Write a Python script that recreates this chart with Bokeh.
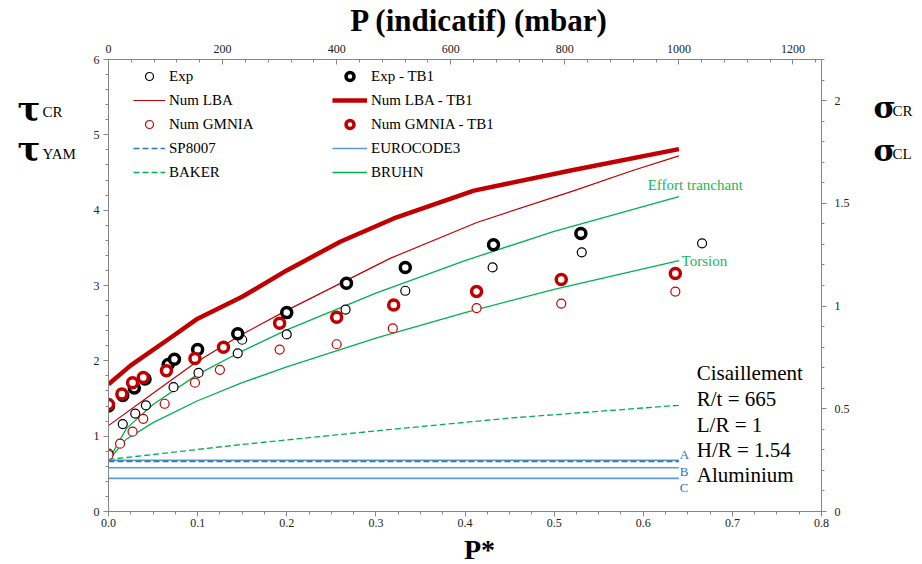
import numpy as np
from bokeh.plotting import figure
from bokeh.layouts import row, column
from bokeh.models import (Range1d, LinearAxis, Legend, LegendItem, Label,
                          FixedTicker, NumeralTickFormatter)
from bokeh.embed import file_html
from bokeh.resources import INLINE

# ---------------- data ----------------
exp_x = [0.0, 0.016, 0.030, 0.042, 0.073, 0.101, 0.145, 0.150, 0.200, 0.266, 0.333, 0.431, 0.531, 0.666]
exp_y = [0.77, 1.16, 1.30, 1.41, 1.65, 1.84, 2.10, 2.28, 2.35, 2.68, 2.93, 3.24, 3.44, 3.56]

exp_tb1_x = [0.0, 0.016, 0.029, 0.041, 0.067, 0.074, 0.100, 0.145, 0.200, 0.267, 0.333, 0.432, 0.530]
exp_tb1_y = [1.40, 1.54, 1.64, 1.76, 1.95, 2.02, 2.15, 2.36, 2.64, 3.03, 3.24, 3.54, 3.69]

gmnia_x = [0.0, 0.013, 0.027, 0.039, 0.063, 0.097, 0.125, 0.192, 0.256, 0.319, 0.413, 0.508, 0.636]
gmnia_y = [0.75, 0.90, 1.06, 1.23, 1.43, 1.71, 1.88, 2.15, 2.22, 2.43, 2.70, 2.76, 2.92]

gmnia_tb1_x = [0.0, 0.015, 0.027, 0.039, 0.065, 0.097, 0.129, 0.192, 0.256, 0.320, 0.413, 0.508, 0.636]
gmnia_tb1_y = [1.42, 1.56, 1.71, 1.78, 1.87, 2.03, 2.18, 2.50, 2.58, 2.74, 2.92, 3.08, 3.16]

lba_x = [0.0, 0.05, 0.097, 0.148, 0.2, 0.316, 0.414, 0.52, 0.589, 0.64]
lba_y = [1.14, 1.57, 1.97, 2.34, 2.67, 3.36, 3.84, 4.25, 4.53, 4.72]

lba_tb1_x = [0.0, 0.025, 0.07, 0.1, 0.15, 0.2, 0.26, 0.32, 0.41, 0.52, 0.64]
lba_tb1_y = [1.69, 1.94, 2.31, 2.56, 2.85, 3.20, 3.58, 3.89, 4.26, 4.53, 4.81]

bruhn_x = [0.0, 0.02, 0.05, 0.1, 0.15, 0.2, 0.3, 0.4, 0.5, 0.64]
bruhn_shear_y = [0.68, 1.10, 1.42, 1.82, 2.13, 2.41, 2.90, 3.33, 3.72, 4.18]
bruhn_torsion_y = [0.68, 0.96, 1.18, 1.47, 1.71, 1.92, 2.30, 2.64, 2.95, 3.33]

baker_x = [0.0, 0.15, 0.3, 0.45, 0.64]
baker_y = [0.69, 0.89, 1.07, 1.24, 1.41]

ec3_x = [0.0, 0.64]
ec3_levels = [0.68, 0.58, 0.44]
ec3_names = ["A", "B", "C"]
sp8007_level = 0.665

left_ticks = [0, 1, 2, 3, 4, 5, 6]
right_ticks = [0, 0.5, 1, 1.5, 2]
bottom_ticks = [0.0, 0.1, 0.2, 0.3, 0.4, 0.5, 0.6, 0.7, 0.8]
top_ticks = [0, 200, 400, 600, 800, 1000, 1200]

# ---------------- styling ----------------
RED = "#c00000"
GREEN = "#00b050"
BLUE = "#5b9bd5"
DBLUE = "#2e75b6"
SERIF = "Liberation Serif"
GREEK = "DejaVu Serif"
AXIS_GRAY = "#868686"

TOTAL_W, TOP_H, MAIN_H, BOT_H = 922, 38, 495, 31
LEFT_W, MAIN_W, RIGHT_W = 80, 780, 62

p = figure(width=MAIN_W, height=MAIN_H, x_range=Range1d(0, 0.8), y_range=Range1d(0, 6),
           output_backend="svg", toolbar_location=None,
           min_border_left=28, min_border_right=39, min_border_top=21, min_border_bottom=22)
p.extra_x_ranges = {"top": Range1d(0, 1250)}
p.extra_y_ranges = {"right": Range1d(0, 2.2)}
p.outline_line_color = None
p.xgrid.visible = False
p.ygrid.visible = False


def style_axis(ax, inward=False, standoff=4):
    ax.axis_line_color = AXIS_GRAY
    ax.major_tick_line_color = AXIS_GRAY
    ax.minor_tick_line_color = AXIS_GRAY
    if inward:
        ax.major_tick_in, ax.major_tick_out = 5, 0
        ax.minor_tick_in, ax.minor_tick_out = 3, 0
    else:
        ax.major_tick_in, ax.major_tick_out = 0, 5
        ax.minor_tick_in, ax.minor_tick_out = 0, 3
    ax.major_label_text_font = SERIF
    ax.major_label_text_font_size = "12px"
    ax.major_label_text_color = "#222222"
    ax.major_label_standoff = standoff


p.yaxis.ticker = FixedTicker(ticks=left_ticks, minor_ticks=list(np.round(np.arange(0, 6.01, 0.2), 3)))
p.yaxis.formatter = NumeralTickFormatter(format="0")
style_axis(p.yaxis[0])

p.xaxis.ticker = FixedTicker(ticks=bottom_ticks, minor_ticks=list(np.round(np.arange(0, 0.801, 0.025), 4)))
p.xaxis.formatter = NumeralTickFormatter(format="0.0")
style_axis(p.xaxis[0], standoff=2)

top_axis = LinearAxis(x_range_name="top",
                      ticker=FixedTicker(ticks=top_ticks, minor_ticks=list(range(0, 1251, 40))),
                      formatter=NumeralTickFormatter(format="0"))
style_axis(top_axis, inward=True, standoff=7)
p.add_layout(top_axis, "above")

right_axis = LinearAxis(y_range_name="right",
                        ticker=FixedTicker(ticks=right_ticks, minor_ticks=list(np.round(np.arange(0, 2.21, 0.1), 3))),
                        formatter=NumeralTickFormatter(format="0.[0]"))
style_axis(right_axis, standoff=8)
p.add_layout(right_axis, "right")

# ---------------- lines ----------------
r_lba = p.line(lba_x, lba_y, line_color=RED, line_width=1.2)
r_lba_tb1 = p.line(lba_tb1_x, lba_tb1_y, line_color=RED, line_width=4.5)
r_bruhn = p.line(bruhn_x, bruhn_shear_y, line_color=GREEN, line_width=1.3)
p.line(bruhn_x, bruhn_torsion_y, line_color=GREEN, line_width=1.3)
r_baker = p.line(baker_x, baker_y, line_color=GREEN, line_width=1.3, line_dash="6 3")
ec3_renderers = []
for lvl in ec3_levels:
    ec3_renderers.append(p.line(ec3_x, [lvl, lvl], line_color=BLUE, line_width=1.6))
r_sp = p.line(ec3_x, [sp8007_level, sp8007_level], line_color=DBLUE, line_width=1.6, line_dash="6 3")

# ---------------- markers ----------------
r_exp = p.scatter(exp_x, exp_y, marker="circle", size=9, fill_color="white",
                  line_color="black", line_width=1.2)
r_gmnia = p.scatter(gmnia_x, gmnia_y, marker="circle", size=9, fill_color="white",
                    line_color=RED, line_width=1.2)
r_exp_tb1 = p.scatter(exp_tb1_x, exp_tb1_y, marker="circle", size=10, fill_color="white",
                      line_color="black", line_width=3.5)
r_gmnia_tb1 = p.scatter(gmnia_tb1_x, gmnia_tb1_y, marker="circle", size=10, fill_color="white",
                        line_color=RED, line_width=3.5)


# ---------------- legends ----------------
def make_legend(items, loc, gw):
    lg = Legend(items=items, location=loc, orientation="vertical",
                glyph_width=gw, glyph_height=20, spacing=4, padding=0, margin=0,
                label_standoff=4, label_text_font=SERIF, label_text_font_size="15px",
                label_text_color="black", background_fill_alpha=0, border_line_color=None)
    p.add_layout(lg, "center")


make_legend([LegendItem(label="Exp", renderers=[r_exp]),
             LegendItem(label="Num LBA", renderers=[r_lba]),
             LegendItem(label="Num GMNIA", renderers=[r_gmnia]),
             LegendItem(label="SP8007", renderers=[r_sp]),
             LegendItem(label="BAKER", renderers=[r_baker])], (25, 329), 32)
make_legend([LegendItem(label="Exp - TB1", renderers=[r_exp_tb1]),
             LegendItem(label="Num LBA - TB1", renderers=[r_lba_tb1]),
             LegendItem(label="Num GMNIA - TB1", renderers=[r_gmnia_tb1]),
             LegendItem(label="EUROCODE3", renderers=[ec3_renderers[0]]),
             LegendItem(label="BRUHN", renderers=[r_bruhn])], (224, 329), 35)


def txt(fig, x, y, s, size, color="black", style="normal", align="left",
        baseline="middle", font=SERIF):
    fig.add_layout(Label(x=x, y=y, text=s, text_font=font, text_font_size=size,
                         text_color=color, text_font_style=style, text_align=align,
                         text_baseline=baseline))


# curve annotations (inside the plot frame, data units)
txt(p, 0.605, 4.328, "Effort tranchant", "15px", color="#1fb35a")
txt(p, 0.643, 3.319, "Torsion", "15px", color="#1fb35a")
for name, yy in zip(ec3_names, [0.763, 0.531, 0.319]):
    txt(p, 0.641, yy, name, "13px", color=DBLUE)

for s, yy in zip(["Cisaillement", "R/t = 665", "L/R = 1", "H/R = 1.54", "Aluminium"],
                 [1.832, 1.487, 1.142, 0.810, 0.478]):
    txt(p, 0.66, yy, s, "21px")


# ---------------- text-only side panels ----------------
def text_panel(w, h):
    f = figure(width=w, height=h, x_range=Range1d(0, w), y_range=Range1d(h, 0),
               x_axis_type=None, y_axis_type=None, output_backend="svg",
               toolbar_location=None, min_border=0, title=None)
    f.outline_line_color = None
    f.xgrid.visible = False
    f.ygrid.visible = False
    return f


top_fig = text_panel(TOTAL_W, TOP_H)
txt(top_fig, 479, 20, "P (indicatif) (mbar)", "31px", style="bold", align="center")

bot_fig = text_panel(TOTAL_W, BOT_H)
txt(bot_fig, 479, 16, "P*", "28px", style="bold", align="center")

left_fig = text_panel(LEFT_W, MAIN_H)
txt(left_fig, 17, 54, "τ", "34px", style="bold", font=GREEK)
txt(left_fig, 42, 58, "CR", "15px")
txt(left_fig, 17, 98, "τ", "34px", style="bold", font=GREEK)
txt(left_fig, 42, 104, "YAM", "15px")

right_fig = text_panel(RIGHT_W, MAIN_H)
txt(right_fig, 13, 53, "σ", "30px", style="bold", font=GREEK)
txt(right_fig, 32, 56, "CR", "15px")
txt(right_fig, 13, 100, "σ", "30px", style="bold", font=GREEK)
txt(right_fig, 32, 103, "CL", "15px")

layout = column(top_fig, row(left_fig, p, right_fig), bot_fig)

open("out.html", "w").write(file_html(layout, INLINE))
